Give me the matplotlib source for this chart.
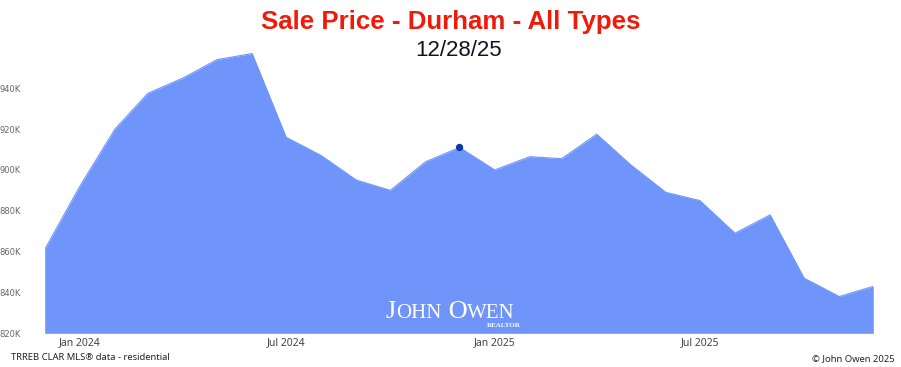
import matplotlib
matplotlib.use("Agg")
import matplotlib.pyplot as plt
import pandas as pd

# ---- data ----
months = pd.date_range("2023-12-01", "2025-12-01", freq="MS")
prices_k = [861, 892, 920, 937.5, 945, 954, 957, 916, 907, 895, 890, 904, 911,
            900, 906.5, 905.5, 917.5, 902.5, 889, 885, 869, 878, 847, 838, 843]
highlight_index = 12
y_ticks = [820, 840, 860, 880, 900, 920, 940]
x_tick_dates = ["2024-01-01", "2024-07-01", "2025-01-01", "2025-07-01"]
x_tick_labels = ["Jan 2024", "Jul 2024", "Jan 2025", "Jul 2025"]

title = "Sale Price - Durham - All Types"
subtitle = "12/28/25"
source_note = "TRREB CLAR MLS\u00ae data - residential"
copyright_note = "\u00a9 John Owen 2025"

W, H = 901, 367
fig = plt.figure(figsize=(W / 100, H / 100), dpi=100)
ax = fig.add_axes([44.7 / W, 1 - 333.3 / H, (873.3 - 44.7) / W, (333.3 - 47.4) / H])

fill_color = "#7095FA"
ax.grid(axis="y", color="#f7f7f7", linestyle=(0, (1, 3)), linewidth=0.8, zorder=0)
ax.fill_between(months, prices_k, 820, color=fill_color, linewidth=0, zorder=2)
ax.plot(months, prices_k, color=fill_color, linewidth=0.8, zorder=3)
ax.scatter([months[highlight_index]], [prices_k[highlight_index]], s=28,
           color="#0A3A9C", zorder=4, edgecolors="none")

ax.set_xlim(months[0], months[-1])
ax.set_ylim(820, 960)
ax.set_yticks(y_ticks)
ax.set_yticklabels([f"{v}K" for v in y_ticks], fontsize=6, color="#666666",
                   family="DejaVu Sans")
ax.set_xticks(pd.to_datetime(x_tick_dates))
ax.set_xticklabels(x_tick_labels, fontsize=7.5, color="#444444", family="Noto Sans")
ax.tick_params(axis="both", length=0)
ax.tick_params(axis="y", pad=17)
ax.tick_params(axis="x", pad=3)
for s in ax.spines.values():
    s.set_visible(False)
ax.set_axisbelow(True)

# titles
fig.text(451 / W, 1 - 22 / H, title, ha="center", va="center", fontsize=18.6,
         fontweight="bold", color="#F01A0A", family="Liberation Sans")
fig.text(459 / W, 1 - 50 / H, subtitle, ha="center", va="center", fontsize=16,
         color="#111122", family="Liberation Sans")

# watermark (small-caps style)
renderer = fig.canvas.get_renderer()
parts = [("J", 19), ("OHN", 15), (" O", 19), ("WEN", 15)]
x_px = 386
for txt, fs in parts:
    t = fig.text(x_px / W, 1 - 318 / H, txt, ha="left", va="baseline", fontsize=fs,
                 color="white", family="Liberation Serif", zorder=5)
    bb = t.get_window_extent(renderer=renderer)
    x_px += bb.width
fig.text(521 / W, 1 - 327 / H, "REALTOR", ha="right", va="baseline", fontsize=5,
         color="white", family="Liberation Serif", fontweight="bold", zorder=5)

# footers
fig.text(11 / W, 1 - 358 / H, source_note, ha="left", va="center", fontsize=6.8,
         color="#222222", family="Noto Sans")
fig.text(895 / W, 1 - 359 / H, copyright_note, ha="right", va="center", fontsize=6.8,
         color="#222222", family="Noto Sans")

fig.savefig("out.png", dpi=100)
